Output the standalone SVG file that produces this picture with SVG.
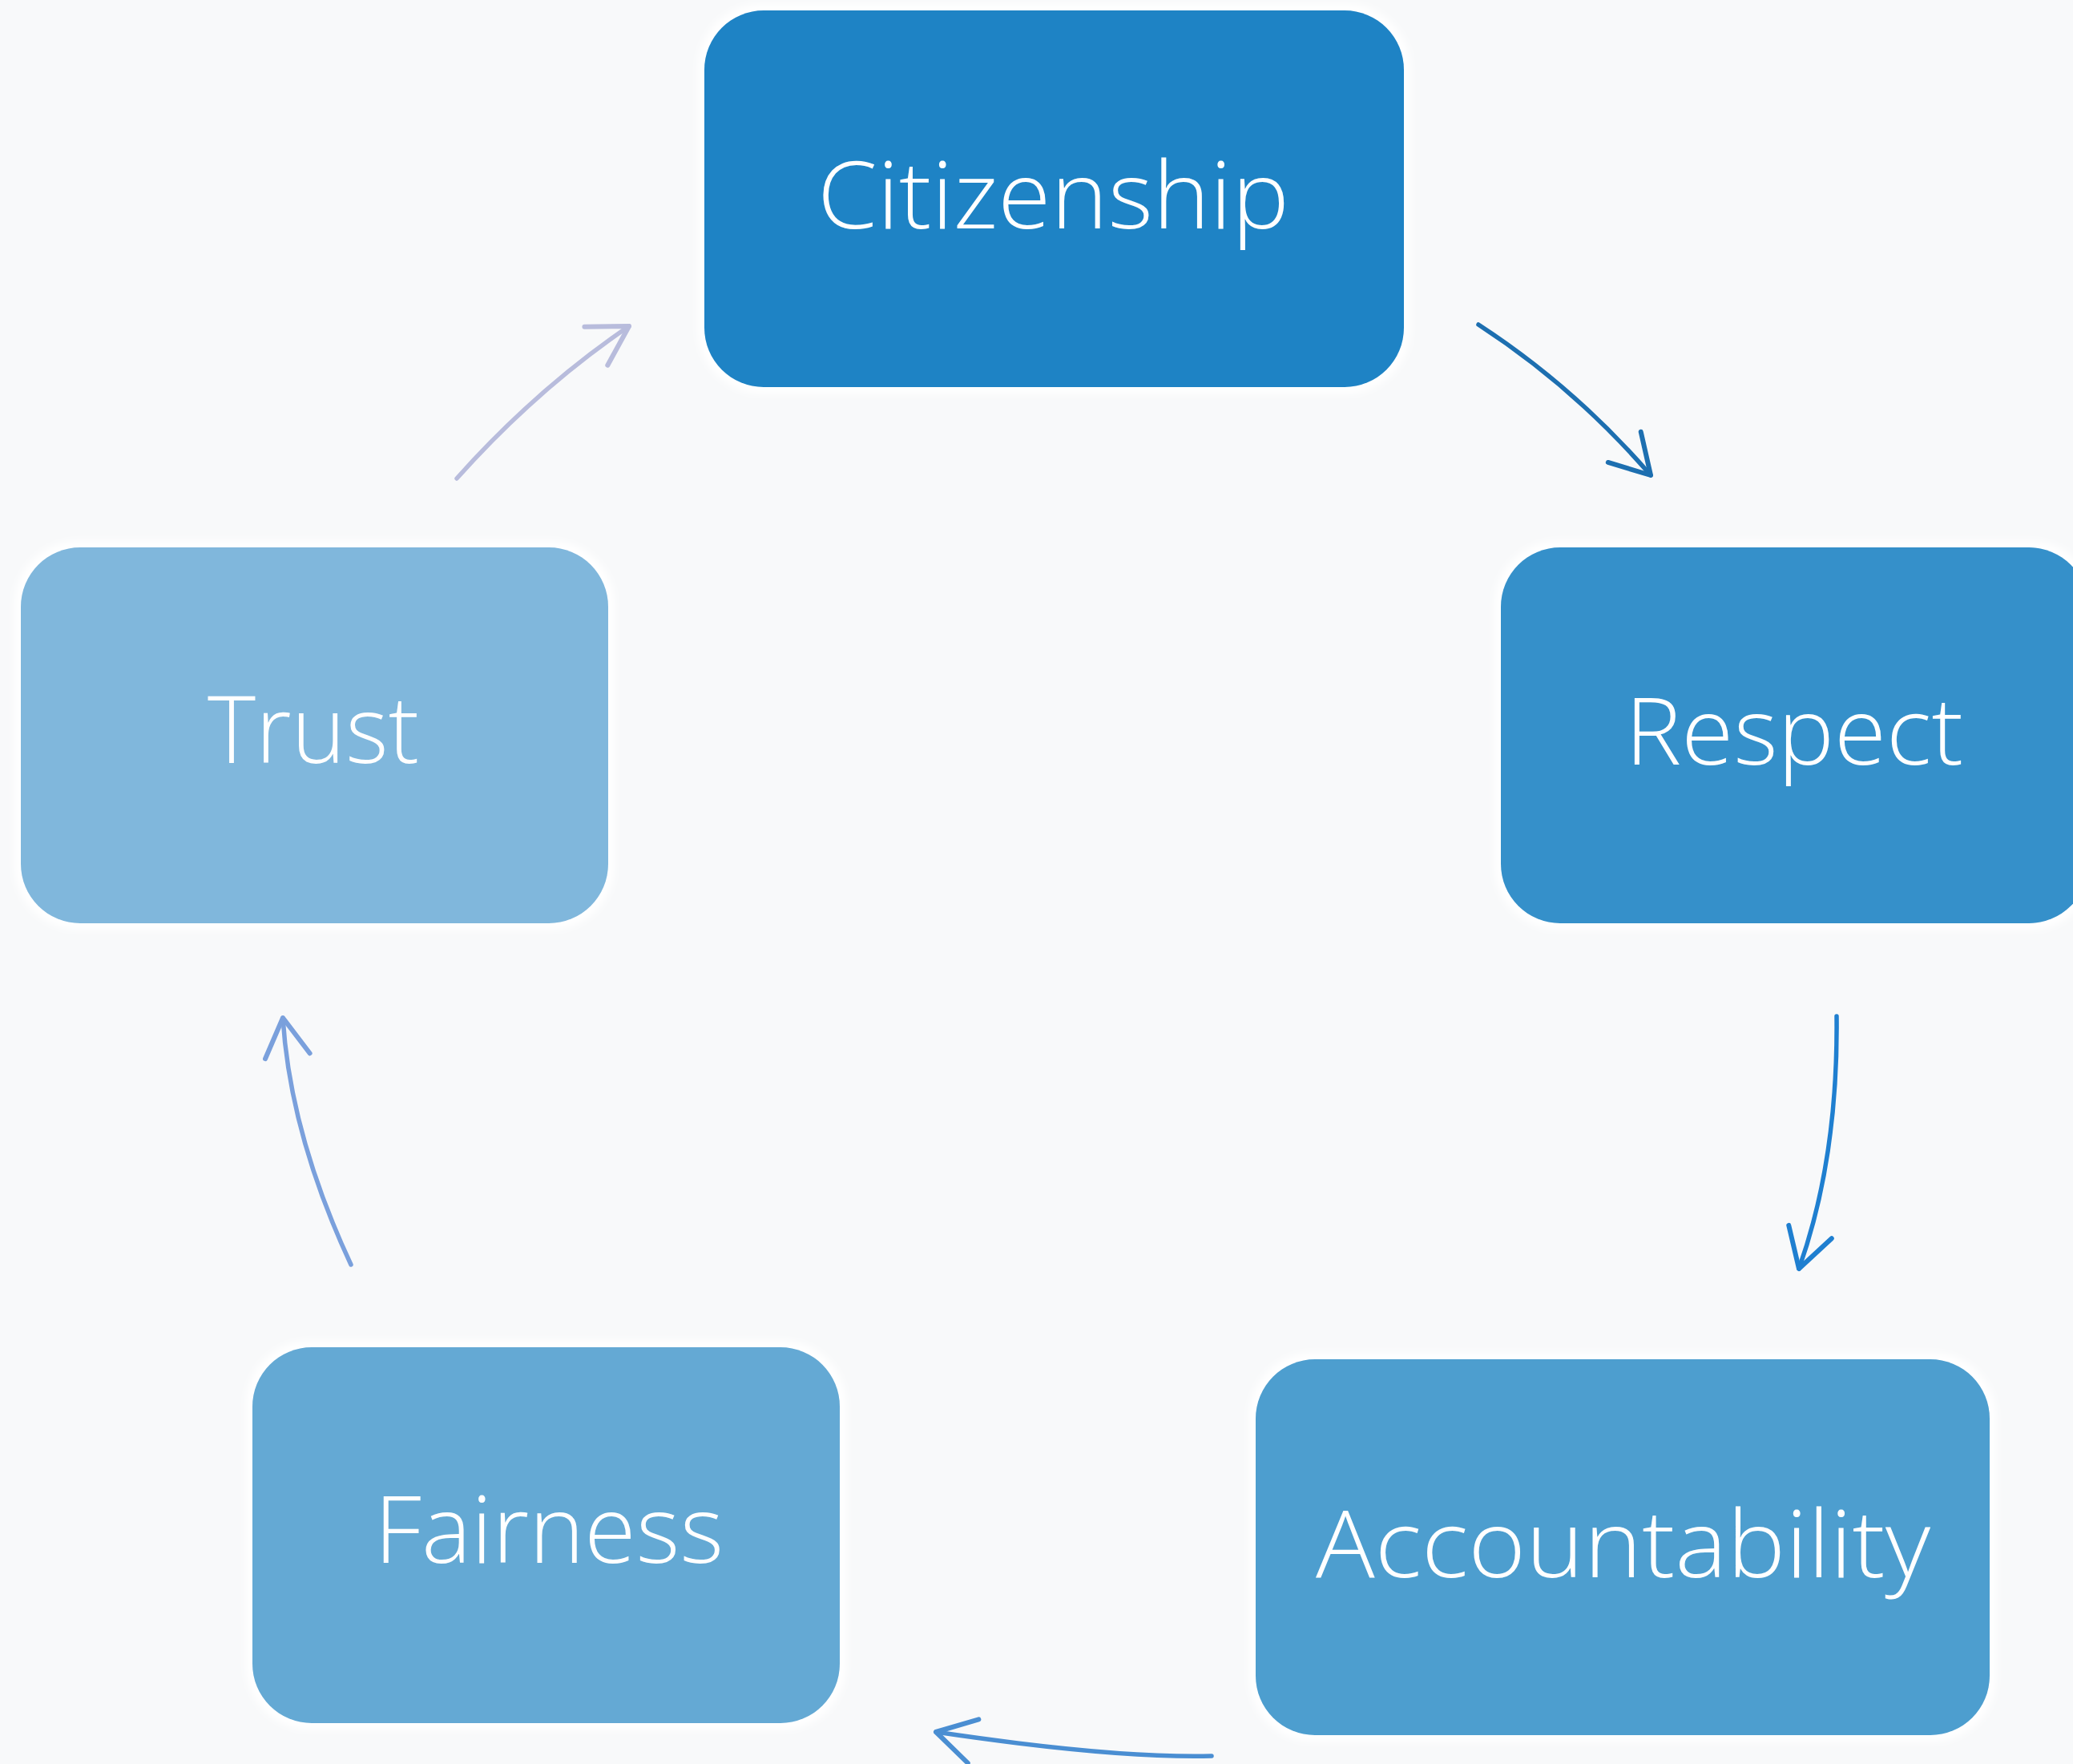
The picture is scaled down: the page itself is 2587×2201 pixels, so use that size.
<svg xmlns="http://www.w3.org/2000/svg" width="2587" height="2201" viewBox="0 0 2587 2201">
  <defs>
    <style>
      .halo { fill: #ffffff; filter: url(#soft); }
      .box-label { font-family: "Open Sans", "Liberation Sans", sans-serif; font-size: 116px; font-weight: 350; fill: #ffffff; text-anchor: middle; font-variant-ligatures: none; }
      .link { fill: none; stroke-width: 5.5; stroke-linecap: round; }
      .head { fill: none; stroke-width: 6; stroke-linecap: round; stroke-linejoin: round; }
    </style>
    <filter id="soft" x="-10%" y="-10%" width="120%" height="120%">
      <feGaussianBlur stdDeviation="5"/>
    </filter>
    <!-- open chevron heads, one per connector colour and heading -->
    <marker id="head-1" markerUnits="userSpaceOnUse" viewBox="-60 -40 70 80" markerWidth="70" markerHeight="80" refX="0" refY="0" orient="47">
      <path class="head" stroke="#1d6fb0" d="M -48,-28 L 0,0 L -48,28"/>
    </marker>
    <marker id="head-2" markerUnits="userSpaceOnUse" viewBox="-60 -40 70 80" markerWidth="70" markerHeight="80" refX="0" refY="0" orient="107">
      <path class="head" stroke="#1f7fd0" d="M -48,-28 L 0,0 L -48,28"/>
    </marker>
    <marker id="head-3" markerUnits="userSpaceOnUse" viewBox="-60 -40 70 80" markerWidth="70" markerHeight="80" refX="0" refY="0" orient="194">
      <path class="head" stroke="#4a8ed2" d="M -48,-28 L 0,0 L -48,28"/>
    </marker>
    <marker id="head-4" markerUnits="userSpaceOnUse" viewBox="-60 -40 70 80" markerWidth="70" markerHeight="80" refX="0" refY="0" orient="263">
      <path class="head" stroke="#7aa0dc" d="M -48,-28 L 0,0 L -48,28"/>
    </marker>
    <marker id="head-5" markerUnits="userSpaceOnUse" viewBox="-60 -40 70 80" markerWidth="70" markerHeight="80" refX="0" refY="0" orient="-31">
      <path class="head" stroke="#b8bcdc" d="M -48,-28 L 0,0 L -48,28"/>
    </marker>
  </defs>

  <!-- page background -->
  <rect x="0" y="0" width="2587" height="2201" fill="#f8f9fa"/>

  <!-- cycle connectors -->
  <g id="connectors">
    <path class="link" stroke="#1d6fb0" marker-end="url(#head-1)" d="M 1845,405 Q 1965,483 2060,593"/>
    <path class="link" stroke="#1f7fd0" marker-end="url(#head-2)" d="M 2292,1268 Q 2294,1445 2245,1583"/>
    <path class="link" stroke="#4a8ed2" marker-end="url(#head-3)" d="M 1512,2191 Q 1390,2194 1168,2161"/>
    <path class="link" stroke="#7aa0dc" marker-end="url(#head-4)" d="M 438,1578 Q 362,1415 353,1270"/>
    <path class="link" stroke="#b8bcdc" marker-end="url(#head-5)" d="M 570,597 Q 668,487 785,407"/>
  </g>

  <g id="node-citizenship">
    <rect class="halo" x="871" y="5" width="889" height="486" rx="80"/>
    <rect x="879" y="13" width="873" height="470" rx="74" fill="#1e83c5"/>
    <text class="box-label" x="1314.5" y="285" textLength="589" lengthAdjust="spacingAndGlyphs">Citizenship</text>
  </g>

  <g id="node-respect">
    <rect class="halo" x="1865" y="675" width="749" height="485" rx="80"/>
    <rect x="1873" y="683" width="733" height="469" rx="74" fill="#3590ca"/>
    <text class="box-label" x="2239" y="954" textLength="422" lengthAdjust="spacingAndGlyphs">Respect</text>
  </g>

  <g id="node-accountability">
    <rect class="halo" x="1559" y="1688" width="932" height="485" rx="80"/>
    <rect x="1567" y="1696" width="916" height="469" rx="74" fill="#4d9ecf"/>
    <text class="box-label" x="2025.5" y="1968" textLength="767" lengthAdjust="spacingAndGlyphs">Accountability</text>
  </g>

  <g id="node-fairness">
    <rect class="halo" x="307" y="1673" width="749" height="485" rx="80"/>
    <rect x="315" y="1681" width="733" height="469" rx="74" fill="#64a9d4"/>
    <text class="box-label" x="685" y="1950" textLength="436" lengthAdjust="spacingAndGlyphs">Fairness</text>
  </g>

  <g id="node-trust">
    <rect class="halo" x="18" y="675" width="749" height="485" rx="80"/>
    <rect x="26" y="683" width="733" height="469" rx="74" fill="#80b7dc"/>
    <text class="box-label" x="391" y="952" textLength="264" lengthAdjust="spacingAndGlyphs">Trust</text>
  </g>
</svg>
